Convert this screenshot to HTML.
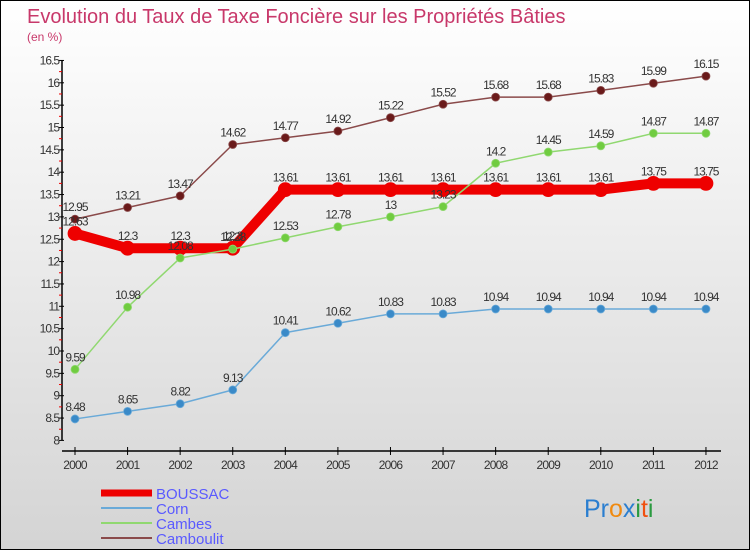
<!DOCTYPE html>
<html><head><meta charset="utf-8"><style>
body{margin:0;}
#wrap{position:relative;width:748px;height:548px;border:1px solid #000;background:linear-gradient(#ffffff,#d4d4d4);font-family:"Liberation Sans",sans-serif;overflow:hidden}
</style></head><body>
<div id="wrap">
<svg id="chart" width="748" height="548" style="position:absolute;left:0;top:0"></svg>
</div>
<script>
const years=[2000,2001,2002,2003,2004,2005,2006,2007,2008,2009,2010,2011,2012];
const boussac=[12.63,12.3,12.3,12.3,13.61,13.61,13.61,13.61,13.61,13.61,13.61,13.75,13.75];
const corn=[8.48,8.65,8.82,9.13,10.41,10.62,10.83,10.83,10.94,10.94,10.94,10.94,10.94];
const cambes=[9.59,10.98,12.08,12.28,12.53,12.78,13,13.23,14.2,14.45,14.59,14.87,14.87];
const camboulit=[12.95,13.21,13.47,14.62,14.77,14.92,15.22,15.52,15.68,15.68,15.83,15.99,16.15];
const yTicks=[8,8.5,9,9.5,10,10.5,11,11.5,12,12.5,13,13.5,14,14.5,15,15.5,16,16.5];
const NS="http://www.w3.org/2000/svg";
const svg=document.getElementById('chart');
const X=i=>74+i*52.58;
const Y=v=>439.4-(v-8)*44.7;
function mk(t,a,p){const e=document.createElementNS(NS,t);for(const k in a)e.setAttribute(k,a[k]);(p||svg).appendChild(e);return e;}
let t=mk('text',{x:26,y:22,fill:'#c8386a','font-size':20});t.textContent='Evolution du Taux de Taxe Foncière sur les Propriétés Bâties';

t=mk('text',{x:26,y:40,fill:'#c8386a','font-size':12});t.textContent='(en %)';

let ax=mk('line',{x1:61,y1:Y(16.5),x2:61,y2:Y(8),stroke:'#000','stroke-width':1.5});

yTicks.forEach(v=>{mk('line',{x1:58,x2:63,y1:Y(v),y2:Y(v),stroke:'#000'});
 if(v<16.5) mk('line',{x1:58,x2:61,y1:Y(v+0.25),y2:Y(v+0.25),stroke:'#e00'});
 const l=mk('text',{x:58,y:Y(v)+4,'text-anchor':'end','font-size':12,fill:'#333','letter-spacing':'-1'});l.textContent=v;
 });
ax=mk('line',{x1:61,y1:450,x2:720,y2:450,stroke:'#000','stroke-width':1.5});

years.forEach((y,i)=>{mk('line',{x1:X(i),x2:X(i),y1:446,y2:454,stroke:'#000'});
 const l=mk('text',{x:X(i),y:468,'text-anchor':'middle','font-size':12,fill:'#333','letter-spacing':'-0.8'});l.textContent=y;
 });
function series(data,color,dot,w,r,name){
 const g=mk('g',{});
 mk('polyline',{points:data.map((v,i)=>X(i)+','+Y(v)).join(' '),fill:'none',stroke:color,'stroke-width':w,'stroke-linejoin':'round'},g);
 data.forEach((v,i)=>{const c=mk('circle',{cx:X(i),cy:Y(v),r:r,fill:dot,stroke:color,'stroke-width':0.8},g);
  });
}
function labels(data,name){data.forEach((v,i)=>{const l=mk('text',{x:X(i),y:Y(v)-8,'text-anchor':'middle','font-size':12,fill:'#333','letter-spacing':'-1'});l.textContent=v;
 });}
series(boussac,'#ee0000','#ee0000',10,7,'boussac');
series(corn,'#6aaad8','#3a8ac8',1.5,4,'corn');
series(cambes,'#90d870','#70cc40',1.5,4,'cambes');
series(camboulit,'#8a4a4a','#6a1a1a',1.5,4,'camboulit');
labels(boussac,'boussac');labels(corn,'corn');labels(cambes,'cambes');labels(camboulit,'camboulit');
const leg=[['BOUSSAC','#ee0000',7],['Corn','#6aaad8',2],['Cambes','#90d870',2],['Camboulit','#8a4a4a',2]];
leg.forEach((e,i)=>{const y=492+i*15;const g=mk('g',{});
 mk('line',{x1:100,x2:151,y1:y,y2:y,stroke:e[1],'stroke-width':e[2]},g);
 const l=mk('text',{x:155,y:y+6,'font-size':15,fill:'#5a5aff'},g);l.textContent=e[0];});
const lg=mk('text',{x:583,y:516,'font-size':25});
[['Pr','#2a7ed0'],['o','#f08a10'],['x','#2a7ed0'],['i','#2a9a40'],['t','#f05010'],['i','#2a9a40']].forEach(p=>{const s=mk('tspan',{fill:p[1]},lg);s.textContent=p[0];});
</script>
</body></html>
